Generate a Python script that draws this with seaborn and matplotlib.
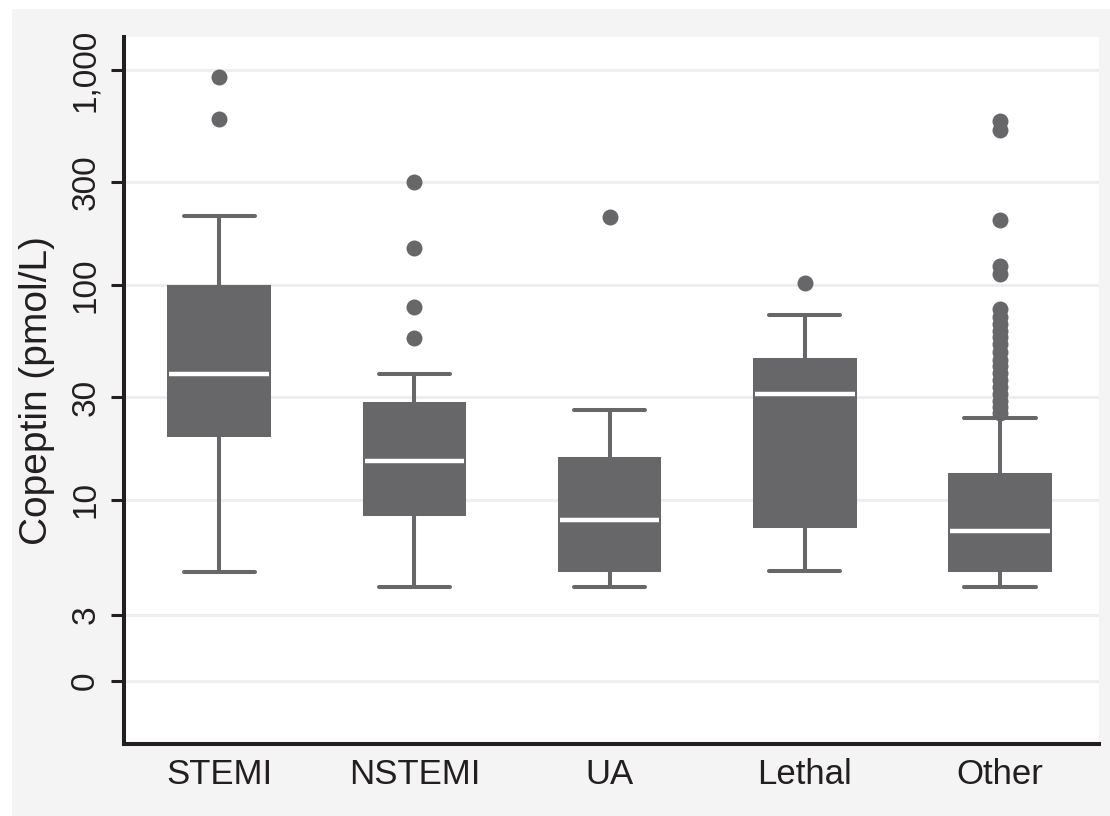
import numpy as np
import pandas as pd
import seaborn as sns
import matplotlib.pyplot as plt
from matplotlib.patches import Rectangle
from matplotlib.ticker import NullLocator

# --------------------------  Data --------------------------
groups = ["STEMI", "NSTEMI", "UA", "Lethal", "Other"]

# five-number summaries: lower whisker, Q1, median, Q3, upper whisker (pmol/L)
stemi_box = [4.64, 20.1, 38.7, 98, 210]
nstemi_box = [3.94, 8.64, 15.2, 28.0, 38.7]
ua_box = [3.95, 4.75, 8.1, 15.5, 26.3]
lethal_box = [4.65, 7.6, 31, 44.8, 72.8]
other_box = [3.95, 4.75, 7.14, 13.1, 24.1]

# outliers
stemi_out = [925, 590]
nstemi_out = [302, 148, 79.3, 56.5]
ua_out = [207]
lethal_out = [102]
other_out = [579, 526, 201, 123, 113, 77, 71, 66, 61, 57, 53, 49, 45, 42,
             39, 36, 33.5, 31, 29, 27, 25.5]

y_ticks = [1000, 300, 100, 30, 10, 2.92, 1.44]
y_tick_labels = ["1,000", "300", "100", "30", "10", "3", "0"]

boxes = [stemi_box, nstemi_box, ua_box, lethal_box, other_box]
outs = [stemi_out, nstemi_out, ua_out, lethal_out, other_out]

box_df = pd.DataFrame({"group": np.repeat(groups, [len(b) for b in boxes]),
                       "value": np.concatenate(boxes)})
out_df = pd.DataFrame({"group": np.repeat(groups, [len(o) for o in outs]),
                       "value": np.concatenate(outs)})

# -------------------------- Plot --------------------------
sns.set_theme(style="white")
plt.rcParams["font.family"] = ["Liberation Sans", "DejaVu Sans"]

grey = "#676769"
ink = "#231f20"

fig = plt.figure(figsize=(11.1, 8.16), dpi=100, facecolor="white")
fig.add_artist(Rectangle((12 / 1110, 0), 1 - 12 / 1110, 1 - 9 / 816,
                         transform=fig.transFigure, facecolor="#f4f4f4",
                         edgecolor="none", zorder=-1))
ax = fig.add_axes([124 / 1110, 72 / 816, 975 / 1110, 707 / 816])
ax.set_facecolor("white")

sns.boxplot(data=box_df, x="group", y="value", order=groups, ax=ax,
            whis=(0, 100), showfliers=False, width=0.51, color=grey,
            linecolor=grey, saturation=1, log_scale=True, linewidth=2.9,
            capwidths=0.364,
            medianprops={"color": "white", "linewidth": 3.2},
            whiskerprops={"linewidth": 2.9},
            capprops={"linewidth": 2.9})
sns.stripplot(data=out_df, x="group", y="value", order=groups, ax=ax,
              jitter=False, size=11.5, color=grey, linewidth=0, log_scale=True)

ax.set_ylim(0.733, 1424)
ax.set_xlim(-0.487, 4.507)
ax.set_yticks(y_ticks)
ax.yaxis.set_minor_locator(NullLocator())
ax.set_yticklabels(y_tick_labels, rotation=90, va="center", fontsize=24, color=ink)
ax.set_xticks(range(len(groups)))
ax.set_xticklabels(groups, fontsize=25, color=ink)
ax.tick_params(axis="y", length=9.4, width=2.2, color=ink, pad=7, left=True)
ax.tick_params(axis="x", length=0, pad=10)
ax.grid(axis="y", color="#eeeeee", linewidth=2.2, zorder=0)
ax.set_axisbelow(True)

ax.set_xlabel("")
ax.set_ylabel("Copeptin (pmol/L)", fontsize=28, color=ink, labelpad=11)

for side in ["top", "right"]:
    ax.spines[side].set_visible(False)
for side in ["left", "bottom"]:
    ax.spines[side].set_color(ink)
    ax.spines[side].set_linewidth(2.9)

fig.savefig("out.png", dpi=100, facecolor=fig.get_facecolor())
